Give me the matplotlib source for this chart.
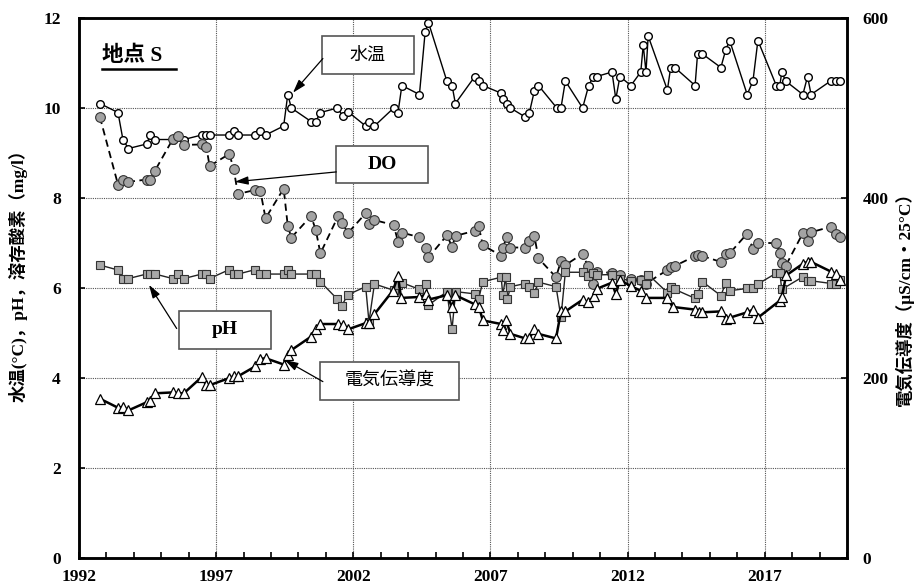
import matplotlib.pyplot as plt
from matplotlib.patches import Rectangle

plt.rcParams['font.family'] = ['Liberation Serif', 'Noto Sans CJK JP']
plt.rcParams['font.weight'] = 'bold'

# 水温 (deg C)
temp_year = [1992.76, 1993.42, 1993.60, 1993.80, 1994.46, 1994.60, 1994.77, 1995.42, 1995.59, 1995.82,
             1996.47, 1996.64, 1996.76, 1997.46, 1997.64, 1997.80, 1998.41, 1998.61, 1998.80, 1999.46,
             1999.61, 1999.74, 2000.46, 2000.63, 2000.80, 2001.42, 2001.62, 2001.80, 2002.45, 2002.57,
             2002.77, 2003.47, 2003.63, 2003.77, 2004.41, 2004.62, 2004.74, 2005.41, 2005.60, 2005.72,
             2006.43, 2006.57, 2006.72, 2007.39, 2007.45, 2007.60, 2007.73, 2008.27, 2008.42, 2008.60,
             2008.75, 2009.42, 2009.57, 2009.73, 2010.36, 2010.58, 2010.75, 2010.87, 2011.43, 2011.57,
             2011.72, 2012.12, 2012.48, 2012.57, 2012.67, 2012.75, 2013.45, 2013.57, 2013.72, 2014.46,
             2014.55, 2014.73, 2015.40, 2015.58, 2015.72, 2016.36, 2016.57, 2016.75, 2017.42, 2017.55,
             2017.62, 2017.76, 2018.39, 2018.56, 2018.69, 2019.40, 2019.58, 2019.76]
temp_val = [10.1, 9.9, 9.3, 9.1, 9.2, 9.4, 9.3, 9.3, 9.35, 9.3,
            9.4, 9.4, 9.4, 9.4, 9.5, 9.4, 9.4, 9.5, 9.4, 9.6,
            10.3, 10.0, 9.7, 9.7, 9.9, 10.0, 9.82, 9.92, 9.6, 9.7,
            9.6, 10.0, 9.9, 10.5, 10.3, 11.7, 11.9, 10.6, 10.5, 10.1,
            10.7, 10.6, 10.5, 10.33, 10.19, 10.1, 10.0, 9.8, 9.9, 10.38,
            10.5, 10.0, 10.0, 10.6, 10.0, 10.5, 10.7, 10.7, 10.8, 10.2,
            10.7, 10.5, 10.8, 11.4, 10.8, 11.6, 10.4, 10.9, 10.9, 10.5,
            11.2, 11.2, 10.9, 11.3, 11.5, 10.3, 10.6, 11.5, 10.5, 10.5,
            10.8, 10.6, 10.3, 10.7, 10.3, 10.6, 10.6, 10.6]

# 溶存酸素 DO (mg/l)
do_year = [1992.76, 1993.42, 1993.60, 1993.80, 1994.46, 1994.60, 1994.77, 1995.42, 1995.59, 1995.82,
           1996.47, 1996.64, 1996.76, 1997.48, 1997.64, 1997.79, 1998.43, 1998.61, 1998.80, 1999.46,
           1999.61, 1999.74, 2000.46, 2000.63, 2000.80, 2001.44, 2001.60, 2001.80, 2002.45, 2002.57,
           2002.77, 2003.47, 2003.63, 2003.77, 2004.41, 2004.66, 2004.74, 2005.41, 2005.60, 2005.73,
           2006.42, 2006.57, 2006.72, 2007.39, 2007.45, 2007.60, 2007.73, 2008.27, 2008.42, 2008.60,
           2008.75, 2009.39, 2009.57, 2009.73, 2010.36, 2010.54, 2010.75, 2010.87, 2011.43, 2011.72,
           2012.12, 2012.48, 2012.67, 2013.45, 2013.57, 2013.72, 2014.46, 2014.55, 2014.73, 2015.40,
           2015.58, 2015.72, 2016.36, 2016.57, 2016.75, 2017.42, 2017.55, 2017.62, 2017.76, 2018.39,
           2018.56, 2018.69, 2019.40, 2019.58, 2019.76]
do_val = [9.80, 8.30, 8.41, 8.36, 8.41, 8.41, 8.61, 9.31, 9.38, 9.18,
          9.19, 9.14, 8.71, 8.98, 8.64, 8.09, 8.18, 8.16, 7.55, 8.21,
          7.38, 7.12, 7.60, 7.29, 6.77, 7.59, 7.45, 7.22, 7.66, 7.42,
          7.51, 7.40, 7.03, 7.23, 7.13, 6.89, 6.68, 7.17, 6.92, 7.16,
          7.27, 7.38, 6.95, 6.72, 6.90, 7.14, 6.90, 6.90, 7.05, 7.16,
          6.66, 6.24, 6.60, 6.51, 6.76, 6.50, 6.08, 6.35, 6.34, 6.30,
          6.20, 6.18, 6.10, 6.40, 6.47, 6.49, 6.71, 6.73, 6.71, 6.58,
          6.75, 6.77, 7.21, 6.87, 7.00, 7.00, 6.77, 6.55, 6.49, 7.22,
          7.05, 7.24, 7.36, 7.21, 7.13]

# pH
ph_year = [1992.76, 1993.42, 1993.60, 1993.80, 1994.46, 1994.60, 1994.77, 1995.42, 1995.59, 1995.82,
           1996.47, 1996.64, 1996.76, 1997.48, 1997.64, 1997.80, 1998.43, 1998.61, 1998.80, 1999.46,
           1999.61, 1999.74, 2000.46, 2000.63, 2000.80, 2001.42, 2001.57, 2001.80, 2002.45, 2002.57,
           2002.77, 2003.47, 2003.63, 2003.77, 2004.41, 2004.66, 2004.74, 2005.41, 2005.60, 2005.73,
           2006.42, 2006.57, 2006.72, 2007.39, 2007.45, 2007.55, 2007.62, 2007.73, 2008.27, 2008.42,
           2008.60, 2008.75, 2009.39, 2009.57, 2009.73, 2010.36, 2010.54, 2010.75, 2010.87, 2011.43,
           2011.72, 2012.12, 2012.48, 2012.67, 2012.75, 2013.45, 2013.57, 2013.72, 2014.46, 2014.55,
           2014.73, 2015.40, 2015.58, 2015.72, 2016.36, 2016.57, 2016.75, 2017.42, 2017.55, 2017.62,
           2018.39, 2018.56, 2018.69, 2019.43, 2019.58, 2019.76]
ph_val = [6.51, 6.40, 6.21, 6.21, 6.31, 6.31, 6.31, 6.21, 6.31, 6.21,
          6.31, 6.31, 6.21, 6.41, 6.31, 6.31, 6.41, 6.31, 6.31, 6.31,
          6.41, 6.31, 6.31, 6.31, 6.14, 5.75, 5.60, 5.85, 6.03, 5.25,
          6.09, 5.95, 6.07, 6.12, 5.97, 6.10, 5.62, 5.92, 5.09, 5.92,
          5.87, 5.76, 6.14, 6.24, 5.84, 6.24, 5.76, 6.03, 6.10, 6.02,
          5.88, 6.13, 6.03, 5.35, 6.35, 6.35, 6.27, 6.34, 6.29, 6.30,
          6.21, 6.16, 6.18, 6.10, 6.30, 5.90, 6.02, 5.97, 5.77, 5.87,
          6.14, 5.83, 6.12, 5.94, 5.99, 5.99, 6.09, 6.33, 6.33, 5.97,
          6.25, 6.16, 6.16, 6.10, 6.09, 6.18]

# 電気伝導度 (uS/cm at 25 C)
ec_year = [1992.76, 1993.42, 1993.60, 1993.80, 1994.46, 1994.60, 1994.77, 1995.42, 1995.59, 1995.82,
           1996.47, 1996.64, 1996.76, 1997.48, 1997.64, 1997.80, 1998.43, 1998.61, 1998.80, 1999.46,
           1999.61, 1999.74, 2000.46, 2000.63, 2000.80, 2001.44, 2001.62, 2001.80, 2002.45, 2002.57,
           2002.77, 2003.44, 2003.63, 2003.74, 2004.39, 2004.66, 2004.72, 2005.41, 2005.60, 2005.72,
           2006.42, 2006.58, 2006.72, 2007.39, 2007.45, 2007.57, 2007.73, 2008.27, 2008.42, 2008.60,
           2008.75, 2009.39, 2009.57, 2009.73, 2010.36, 2010.54, 2010.78, 2010.87, 2011.43, 2011.57,
           2011.72, 2012.12, 2012.48, 2012.67, 2013.45, 2013.64, 2014.46, 2014.60, 2014.73, 2015.40,
           2015.58, 2015.72, 2016.36, 2016.57, 2016.75, 2017.55, 2017.62, 2017.78, 2018.39, 2018.56,
           2018.69, 2019.43, 2019.58, 2019.76]
ec_val = [177, 167, 168, 164, 173, 175, 183, 184, 183, 183,
          201, 192, 192, 200, 202, 202, 213, 221, 222, 215,
          226, 231, 246, 255, 260, 260, 259, 254, 261, 261,
          271, 297, 313, 289, 290, 293, 287, 292, 279, 292,
          282, 279, 264, 260, 253, 264, 249, 244, 244, 254,
          249, 244, 274, 274, 287, 284, 291, 299, 306, 293,
          309, 302, 297, 289, 289, 279, 276, 273, 273, 274,
          266, 267, 273, 276, 267, 286, 290, 314, 327, 329,
          329, 318, 316, 309]

x_ticks = [1992, 1997, 2002, 2007, 2012, 2017]

fig = plt.figure(figsize=(9.18, 5.87), dpi=100)
ax = fig.add_axes([0.0861, 0.0494, 0.8366, 0.9199])
ax2 = ax.twinx()

ax.plot(temp_year, temp_val, '-o', color='black', lw=1.0, mfc='white', mec='black',
        ms=5.5, mew=1.0, zorder=3)
ax.plot(do_year, do_val, '--o', color='black', lw=1.3, dashes=(4, 2.5), mfc='#a3a3a3',
        mec='#333333', ms=7, mew=0.8, zorder=4)
ax.plot(ph_year, ph_val, '-s', color='#222222', lw=1.0, mfc='#a8a8a8', mec='#333333',
        ms=6, mew=0.8, zorder=5)
ax2.plot(ec_year, ec_val, '-^', color='black', lw=1.8, mfc='white', mec='black',
         ms=7, mew=0.9)

ax.set_xlim(1992, 2020)
ax.set_ylim(0, 12)
ax2.set_ylim(0, 600)
ax.set_xticks(x_ticks)
ax.set_xticks(range(1992, 2021), minor=True)
ax.set_yticks(range(0, 13, 2))
ax2.set_yticks([0, 200, 400, 600])
ax.grid(True, ls=(0, (1, 1)), lw=0.8, color='#555555')

ax.tick_params(axis='x', which='both', direction='in', length=4, width=1.2, pad=8, labelsize=12.5)
ax.tick_params(axis='y', direction='in', length=4, width=1.2, pad=13, labelsize=12.5)
ax2.tick_params(axis='y', direction='in', length=4, width=1.2, pad=11, labelsize=12.5)
for a in (ax, ax2):
    for s in a.spines.values():
        s.set_linewidth(1.8)

# 地点 S
ax.text(0.030, 0.912, '地点 S', transform=ax.transAxes, fontsize=15.5, fontweight='bold',
        ha='left', va='bottom')
ax.plot([0.030, 0.126], [0.906, 0.906], transform=ax.transAxes, color='black', lw=1.8)

# label boxes with arrows
boxes = [
    ('水温', 'normal', (2000.84, 10.76, 3.36, 0.85), (2000.89, 11.10), (1999.80, 10.34)),
    ('DO', 'bold', (2001.38, 8.33, 3.36, 0.83), (2001.38, 8.58), (1997.68, 8.36)),
    ('pH', 'bold', (1995.64, 4.64, 3.35, 0.86), (1995.56, 5.10), (1994.55, 6.07)),
    ('電気伝導度', 'normal', (2000.80, 3.51, 5.04, 0.85), (2000.89, 3.92), (1999.50, 4.40)),
]
for label, weight, (bx, by, bw, bh), start, tip in boxes:
    ax.add_patch(Rectangle((bx, by), bw, bh, facecolor='white', edgecolor='#555555',
                           lw=1.2, zorder=6))
    if weight == 'bold':
        ax.text(bx + bw / 2, by + bh / 2, label, ha='center', va='center', fontsize=14,
                fontweight='bold', zorder=7)
    else:
        ax.text(bx + bw / 2, by + bh / 2, label, ha='center', va='center', fontsize=13,
                fontweight='normal', family=['Noto Sans CJK JP'], zorder=7)
    ax.annotate('', xy=tip, xytext=start,
                arrowprops=dict(arrowstyle='-|>,head_length=0.8,head_width=0.25',
                                color='black', lw=0.9, shrinkA=0, shrinkB=0), zorder=7)

fig.text(18 / 918, 1 - 271 / 587, '水温(°C)，pH，溶存酸素（mg/l）', rotation=90,
         ha='center', va='center', fontsize=12.5, fontweight='bold')
fig.text(904 / 918, 1 - 295 / 587, '電気伝導度（μS/cm・25°C）', rotation=90,
         ha='center', va='center', fontsize=12.5, fontweight='bold')

fig.savefig('out.png', dpi=100)
